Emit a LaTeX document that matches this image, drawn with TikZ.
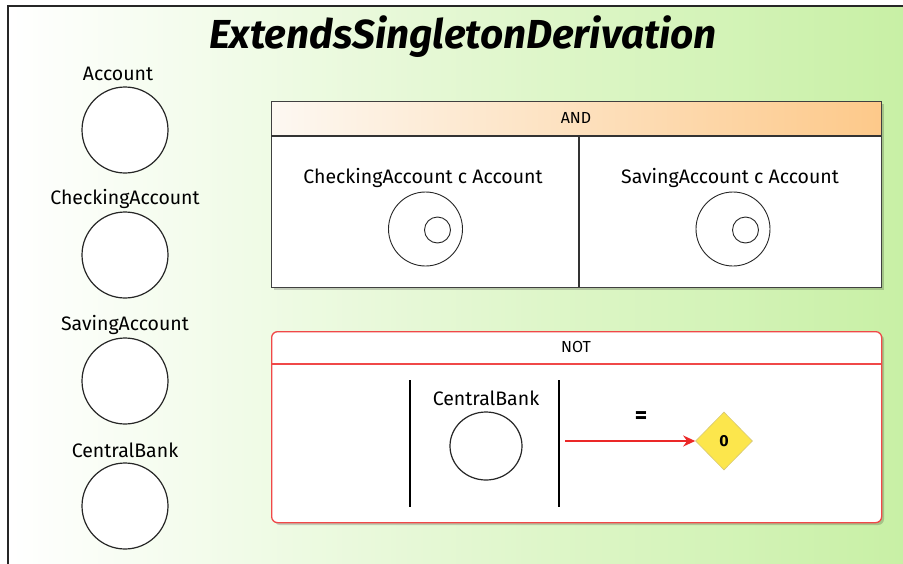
\documentclass[tikz,border=0pt]{standalone}
\usepackage{fontspec}
\setmainfont{Fira Sans}
\usetikzlibrary{shapes.geometric,arrows.meta}
\definecolor{bggreen}{RGB}{200,240,165}
\definecolor{andorange}{RGB}{253,201,138}
\definecolor{andlight}{RGB}{253,248,242}
\definecolor{notred}{RGB}{240,72,72}
\definecolor{dyellow}{RGB}{252,230,76}
\definecolor{dborder}{RGB}{215,200,120}
\tikzset{
  lbl/.style={font=\fontsize{19.5}{22}\selectfont, inner sep=0pt},
  bigcirc/.style={circle, draw=black!85, line width=1.2pt, fill=white, minimum size=86pt, inner sep=0pt},
  outcirc/.style={circle, draw=black!85, line width=0.9pt, fill=white, minimum size=74pt, inner sep=0pt},
  incirc/.style={circle, draw=black!85, line width=0.9pt, fill=white, minimum size=26pt, inner sep=0pt},
  hdr/.style={font=\fontsize{16}{18}\selectfont, inner sep=0pt},
  shadowbox/.style={fill=black, opacity=0.18},
  bar/.style={line width=2.8pt, black},
  redarrow/.style={line width=2.6pt, draw={rgb,255:red,235;green,40;blue,40}, -{Stealth[length=12pt,width=11pt]}},
}
\begin{document}
\begin{tikzpicture}[x=1pt,y=-1pt]
\useasboundingbox (0,0) rectangle (903,563);
% background
\fill[white] (0,0) rectangle (903,563);
\shade[left color=white, right color=bggreen] (8,6) rectangle (903,563);
\draw[line width=1.2pt, black!85] (8,570) -- (8,6) -- (910,6);
% title
\node[font=\fontsize{40.5}{42}\selectfont\bfseries\itshape, inner sep=0pt] (title) at (463,37) {ExtendsSingletonDerivation};
% left column
\node[lbl] (lA) at (118,74) {Account};
\node[bigcirc] (cA) at (125,130) {};
\node[lbl] (lC) at (125,199) {CheckingAccount};
\node[bigcirc] (cC) at (125,255) {};
\node[lbl] (lS) at (125,325) {SavingAccount};
\node[bigcirc] (cS) at (125,381) {};
\node[lbl] (lB) at (125,450) {CentralBank};
\node[bigcirc] (cB) at (125,506) {};
% AND box
\fill[shadowbox] (274,104) rectangle (884,290);
\fill[white] (271,101) rectangle (881,287);
\shade[left color=andlight, right color=andorange] (271,101) rectangle (881,136);
\node[draw=black!75, line width=1.2pt, minimum width=610pt, minimum height=186pt, anchor=north west, inner sep=0pt] (andbox) at (271,101) {};
\draw[line width=1.2pt, black!80] (271,136) -- (881,136);
\draw[line width=1.2pt, black!80] (579,136) -- (579,287);
\node[hdr] (andlbl) at (576,118) {AND};
\node[lbl] (t1) at (423,178) {CheckingAccount c Account};
\node[outcirc] (o1) at (425.5,229) {};
\node[incirc] (i1) at (437.5,230) {};
\node[lbl] (t2) at (730,178) {SavingAccount c Account};
\node[outcirc] (o2) at (733,229) {};
\node[incirc] (i2) at (745.5,230) {};
% NOT box
\fill[shadowbox, rounded corners=6pt] (274,334) rectangle (884,525);
\node[draw=notred, line width=1.3pt, fill=white, rounded corners=6pt, minimum width=610pt, minimum height=191pt, anchor=north west, inner sep=0pt] (notbox) at (271,331) {};
\draw[line width=1.3pt, notred] (271,364) -- (881,364);
\node[hdr] (notlbl) at (576,347) {NOT};
\draw[bar] (410,380) -- (410,507);
\draw[bar] (559,380) -- (559,507);
\node[lbl] (tB) at (486,398) {CentralBank};
\node[ellipse, draw=black!85, line width=1.2pt, fill=white, minimum width=72pt, minimum height=68pt, inner sep=0pt] (eB) at (486,446) {};
\node[diamond, fill=dyellow, draw=dborder, line width=0.6pt, minimum width=57pt, minimum height=58pt, inner sep=0pt, font=\fontsize{16}{18}\selectfont\bfseries] (zero) at (724,441) {0};
\coordinate (arrstart) at (565,441);
\draw[redarrow] (arrstart) -- (zero.west);
\node[font=\fontsize{24}{26}\selectfont\bfseries, inner sep=0pt] (eq) at (641,418) {=};
\end{tikzpicture}
\end{document}
